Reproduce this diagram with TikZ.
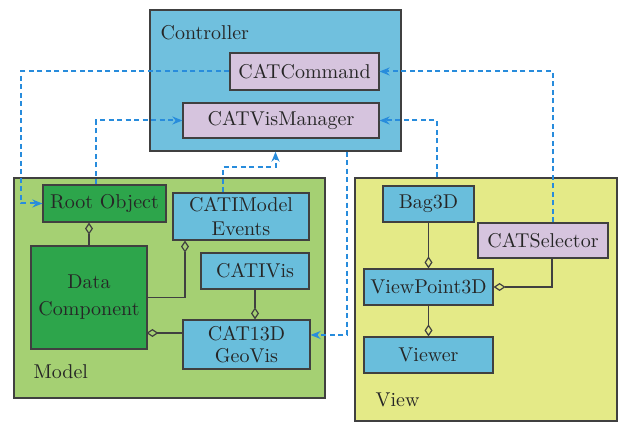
\documentclass[tikz,border=0pt]{standalone}
\usepackage{xcolor}
\usepackage{tikz}
\usetikzlibrary{arrows.meta,positioning}
\definecolor{ctrlblue}{RGB}{112,192,222}
\definecolor{cmdpurple}{RGB}{214,196,222}
\definecolor{modelgreen}{RGB}{165,208,115}
\definecolor{rootgreen}{RGB}{45,165,75}
\definecolor{classblue}{RGB}{105,190,220}
\definecolor{viewyellow}{RGB}{228,234,135}
\definecolor{linkblue}{RGB}{40,140,220}
\begin{document}
\begin{tikzpicture}[
  x=0.5pt, y=-0.5pt,
  every node/.style={draw=black!75, line width=0.6pt, inner sep=0pt,
    font=\normalsize, align=center, text=black!85},
  pkg_node/.style={line width=0.7pt},
  cmd_node/.style={fill=cmdpurple},
  root_node/.style={fill=rootgreen},
  class_node/.style={fill=classblue},
  label_node/.style={draw=none, fill=none, anchor=west},
  dep_link/.style={draw=linkblue, line width=1pt, dash pattern=on 2.5pt off 1.75pt, -{Stealth[length=5pt,width=4pt]}},
  agg_link/.style={draw=black!75, line width=0.6pt, -{Diamond[open,length=6pt,width=4pt]}},
]
\useasboundingbox (0,0) rectangle (622,422);
% packages
\node[pkg_node, fill=ctrlblue, minimum width=125.5pt, minimum height=70.5pt] (ctrl) at (275.5,80.5) {};
\node[pkg_node, fill=modelgreen, minimum width=155.5pt, minimum height=110pt] (model) at (169.5,288) {};
\node[pkg_node, fill=viewyellow, minimum width=131pt, minimum height=121.5pt] (view) at (486,299.5) {};
\node[label_node] (ctrl_lbl) at (160,33) {Controller};
\node[label_node] (model_lbl) at (33,372) {Model};
\node[label_node] (view_lbl) at (375,400) {View};
% controller
\node[cmd_node, minimum width=74.5pt, minimum height=18.5pt] (cmd) at (304.5,71.5) {CATCommand};
\node[cmd_node, minimum width=98pt, minimum height=17.5pt] (vism) at (281,120.5) {CATVisManager};
% model
\node[root_node, minimum width=61.5pt, minimum height=18.5pt] (root) at (104.5,203.5) {Root Object};
\node[class_node, minimum width=68pt, minimum height=23.5pt] (events) at (241,216.5) {CATIModel\\Events};
\node[root_node, minimum width=58pt, minimum height=51.5pt] (data) at (89,297.5) {Data\\[1.5pt]Component};
\node[class_node, minimum width=54pt, minimum height=18pt] (ivis) at (255,271) {CATIVis};
\node[class_node, minimum width=63.5pt, minimum height=24.5pt] (geovis) at (246.5,344.5) {CAT13D\\[-1pt]GeoVis};
% view
\node[class_node, minimum width=45.5pt, minimum height=18pt] (bag) at (428.5,204) {Bag3D};
\node[cmd_node, minimum width=65pt, minimum height=17.5pt] (sel) at (543,240.5) {CATSelector};
\node[class_node, minimum width=64.5pt, minimum height=18pt] (vp) at (428.5,287) {ViewPoint3D};
\node[class_node, minimum width=64.5pt, minimum height=18pt] (viewer) at (428.5,355) {Viewer};
% aggregations
\draw[agg_link] (data.north) -- (data.north |- root.south);
\draw[agg_link] (data.east) -| ([xshift=-28pt]events.south);
\draw[agg_link] (ivis.south) -- (ivis.south |- geovis.north);
\draw[agg_link] ([yshift=5.75pt]geovis.west) -- ++(-36,0);
\draw[agg_link] (bag.south) -- (vp.north);
\draw[agg_link] ([xshift=4.5pt]sel.south) |- (vp.east);
\draw[agg_link] (vp.south) -- (viewer.north);
% dependencies
\draw[dep_link] (cmd.west) -- ++(-208,0) |- (root.west);
\draw[dep_link] ([xshift=-4.25pt]root.north) |- (vism.west);
\draw[dep_link] ([xshift=-9pt]events.north) -- ++(0,-25) -| (ctrl.south);
\draw[dep_link] ([xshift=35.75pt]ctrl.south) |- ([yshift=4.75pt]geovis.east);
\draw[dep_link] ([xshift=-24.5pt]view.north) |- (vism.east);
\draw[dep_link] ([xshift=5pt]sel.north) |- (cmd.east);
\end{tikzpicture}
\end{document}
